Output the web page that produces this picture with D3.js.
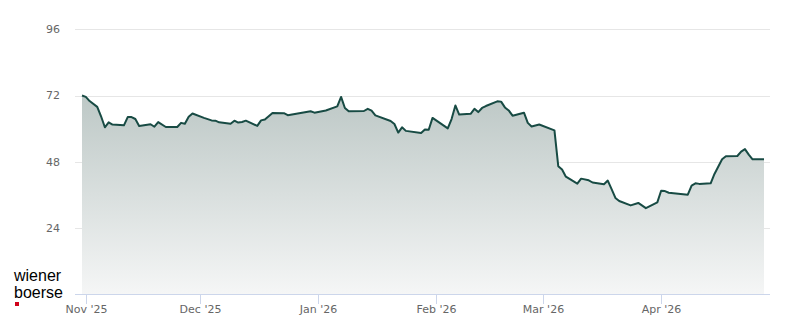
<!DOCTYPE html>
<html>
<head>
<meta charset="utf-8">
<script src="https://cdn.jsdelivr.net/npm/d3@7"></script>
<style>
  body { margin: 0; background: #fff; }
  svg { display: block; font-family: "DejaVu Sans", sans-serif; }
</style>
</head>
<body>
<svg id="chart"></svg>
<script>
// Sample data
const dates = [
  "2025-10-31", "2025-11-01", "2025-11-02", "2025-11-04", "2025-11-05", "2025-11-06", "2025-11-07", "2025-11-08",
  "2025-11-11", "2025-11-12", "2025-11-13", "2025-11-14", "2025-11-15", "2025-11-18", "2025-11-19", "2025-11-20",
  "2025-11-22", "2025-11-25", "2025-11-26", "2025-11-27", "2025-11-28", "2025-11-29", "2025-12-02", "2025-12-04",
  "2025-12-05", "2025-12-06", "2025-12-09", "2025-12-10", "2025-12-11", "2025-12-12", "2025-12-13", "2025-12-16",
  "2025-12-17", "2025-12-18", "2025-12-20", "2025-12-23", "2025-12-24", "2025-12-30", "2025-12-31", "2026-01-03",
  "2026-01-06", "2026-01-07", "2026-01-08", "2026-01-09", "2026-01-13", "2026-01-14", "2026-01-15", "2026-01-16",
  "2026-01-20", "2026-01-21", "2026-01-22", "2026-01-23", "2026-01-24", "2026-01-28", "2026-01-29", "2026-01-30",
  "2026-01-31", "2026-02-04", "2026-02-05", "2026-02-06", "2026-02-07", "2026-02-10", "2026-02-11", "2026-02-12",
  "2026-02-13", "2026-02-14", "2026-02-17", "2026-02-18", "2026-02-19", "2026-02-20", "2026-02-21", "2026-02-24",
  "2026-02-25", "2026-02-26", "2026-02-28", "2026-03-04", "2026-03-05", "2026-03-06", "2026-03-07", "2026-03-10",
  "2026-03-11", "2026-03-13", "2026-03-14", "2026-03-17", "2026-03-18", "2026-03-19", "2026-03-20", "2026-03-21",
  "2026-03-24", "2026-03-26", "2026-03-28", "2026-03-31", "2026-04-01", "2026-04-02", "2026-04-03", "2026-04-08",
  "2026-04-09", "2026-04-10", "2026-04-11", "2026-04-14", "2026-04-15", "2026-04-17", "2026-04-18", "2026-04-21",
  "2026-04-22", "2026-04-23", "2026-04-24", "2026-04-25", "2026-04-28"
];
const prices = [
  72.0, 71.5, 70.0, 67.9, 64.5, 60.5, 62.3, 61.5,
  61.2, 64.2, 64.2, 63.5, 61.0, 61.6, 60.7, 62.4,
  60.6, 60.6, 62.1, 61.8, 64.3, 65.5, 63.9, 63.0,
  62.9, 62.3, 61.8, 62.9, 62.2, 62.4, 62.9, 61.0,
  63.0, 63.3, 65.7, 65.6, 64.9, 66.3, 65.8, 66.6,
  68.1, 71.5, 67.5, 66.3, 66.4, 67.2, 66.5, 64.8,
  62.8, 61.7, 58.6, 60.5, 59.2, 58.4, 59.7, 59.6,
  63.9, 60.1, 63.5, 68.4, 65.1, 65.4, 67.2, 66.0,
  67.5, 68.2, 69.9, 69.8, 67.7, 66.6, 64.7, 65.8,
  62.1, 60.8, 61.5, 59.4, 46.4, 45.2, 42.6, 40.1,
  41.9, 41.3, 40.5, 39.9, 41.2, 38.1, 34.9, 33.8,
  32.2, 33.1, 31.2, 33.3, 37.5, 37.4, 36.8, 36.1,
  39.4, 40.2, 40.0, 40.2, 43.6, 48.9, 50.0, 50.1,
  51.7, 52.6, 50.6, 48.9, 48.9
];
const yTicks = [24, 48, 72, 96];

// Set the dimensions of the chart
const width = 800;
const height = 324;
const plotLeft = 75, plotRight = 770, plotTop = 29.3, plotBottom = 294.3;

const parse = d3.utcParse("%Y-%m-%d");
const data = dates.map((d, i) => ({ date: parse(d), value: prices[i] }));

const svg = d3.select("#chart")
    .attr("width", width)
    .attr("height", height);

// Scales
const x = d3.scaleUtc()
    .domain(d3.extent(data, d => d.date))
    .range([82, 764]);

const y = d3.scaleLinear()
    .domain([0, 96])
    .range([plotBottom, plotTop]);

// Gradient for the area below the line
const grad = svg.append("defs").append("linearGradient")
    .attr("id", "fill")
    .attr("x1", 0).attr("y1", 0)
    .attr("x2", 0).attr("y2", 1);
grad.append("stop").attr("offset", "0%").attr("stop-color", "#bdc8c6");
grad.append("stop").attr("offset", "100%").attr("stop-color", "#f5f6f6");

// Horizontal grid lines + y labels
svg.append("g")
    .selectAll("line")
    .data(yTicks)
  .enter().append("line")
    .attr("x1", plotLeft)
    .attr("x2", plotRight)
    .attr("y1", d => Math.round(y(d)) + 0.5)
    .attr("y2", d => Math.round(y(d)) + 0.5)
    .attr("stroke", "#e6e6e6");

svg.append("g")
    .selectAll("text")
    .data(yTicks)
  .enter().append("text")
    .attr("x", 60)
    .attr("y", d => y(d))
    .attr("dy", ".35em")
    .attr("text-anchor", "end")
    .style("font-size", "11px")
    .style("fill", "#666666")
    .text(d => d);

// Area and line
const area = d3.area()
    .x(d => x(d.date))
    .y0(y(0))
    .y1(d => y(d.value));

const line = d3.line()
    .x(d => x(d.date))
    .y(d => y(d.value));

svg.append("path")
    .datum(data)
    .attr("d", area)
    .attr("fill", "url(#fill)");

svg.append("path")
    .datum(data)
    .attr("d", line)
    .attr("fill", "none")
    .attr("stroke", "#184b44")
    .attr("stroke-width", 2)
    .attr("stroke-linejoin", "round");

// X axis: baseline, month ticks and labels
const months = x.ticks(d3.utcMonth.every(1));
const fmt = d3.utcFormat("%b '%y");

svg.append("line")
    .attr("x1", plotLeft)
    .attr("x2", plotRight)
    .attr("y1", Math.round(plotBottom) + 0.5)
    .attr("y2", Math.round(plotBottom) + 0.5)
    .attr("stroke", "#ccd6eb");

const xt = svg.append("g")
    .selectAll("g")
    .data(months)
  .enter().append("g")
    .attr("transform", d => `translate(${Math.round(x(d)) + 0.5},0)`);

xt.append("line")
    .attr("y1", Math.round(plotBottom))
    .attr("y2", Math.round(plotBottom) + 10)
    .attr("stroke", "#ccd6eb");

xt.append("text")
    .attr("y", 309)
    .attr("dy", ".35em")
    .attr("text-anchor", "middle")
    .style("font-size", "11px")
    .style("fill", "#666666")
    .text(d => fmt(d));

// Logo (two stacked words + small red square)
const logo = svg.append("g")
    .style("font-family", "'Liberation Sans', Arial, sans-serif")
    .style("font-size", "16px")
    .style("fill", "#000");
logo.append("text")
    .attr("x", 14)
    .attr("y", 281)
    .text("wiener");
logo.append("text")
    .attr("x", 14)
    .attr("y", 298)
    .text("boerse");
logo.append("rect")
    .attr("x", 15)
    .attr("y", 302)
    .attr("width", 4)
    .attr("height", 4)
    .attr("fill", "#d0021b");
</script>
</body>
</html>
